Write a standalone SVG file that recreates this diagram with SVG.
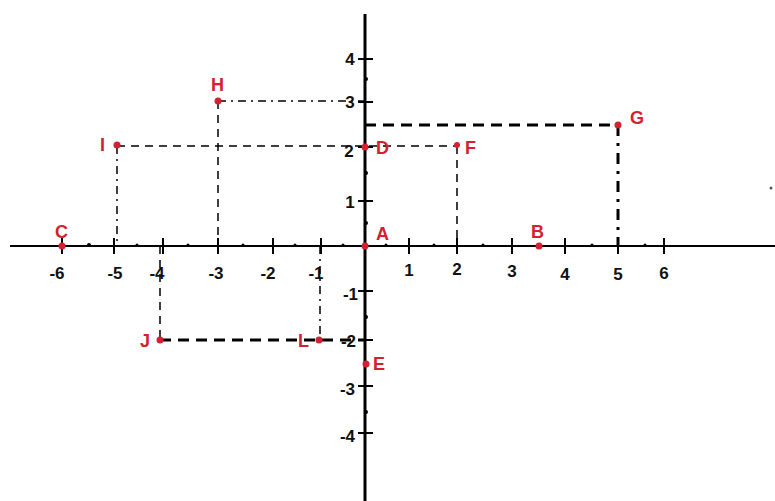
<svg xmlns="http://www.w3.org/2000/svg" width="775" height="501" viewBox="0 0 775 501">
<style>
.axis{stroke:#000;fill:none}
.tick{stroke:#000;stroke-width:2}
.minor{fill:#000}
.num{font-family:"Liberation Sans",Arial,sans-serif;font-weight:bold;font-size:17px;fill:#111}
.lbl{font-family:"Liberation Sans",Arial,sans-serif;font-weight:bold;font-size:18px;fill:#d42030}
.pt{fill:#d42030}
.thin{stroke:#000;stroke-width:1.5;stroke-dasharray:8 6;fill:none}
.thindd{stroke:#000;stroke-width:1.5;stroke-dasharray:8 5 2 5;fill:none}
.thick{stroke:#000;stroke-width:3;stroke-dasharray:11 7;fill:none}
.thickdd{stroke:#000;stroke-width:3;stroke-dasharray:11 7 3 7;fill:none}
</style>
<rect width="775" height="501" fill="#fff"/>
<g id="connectors">
<path class="thindd" d="M218 101 H365"/>
<path class="thin" d="M218 101 V246"/>
<path class="thin" d="M117 146 H457"/>
<path class="thindd" d="M117 146 V246"/>
<path class="thin" d="M457 146 V246"/>
<path class="thick" d="M365 125 H618"/>
<path class="thickdd" d="M618 125 V246"/>
<path class="thick" d="M160 340 H365"/>
<path class="thin" d="M160 246 V340"/>
<path class="thindd" d="M320 246 V340"/>
</g>
<g id="axes">
<line class="axis" x1="10" y1="246" x2="775" y2="246" stroke-width="2"/>
<line class="axis" x1="365" y1="14" x2="365" y2="501" stroke-width="3"/>
<g class="tick">
<line x1="62" y1="238" x2="62" y2="254"/>
<line x1="114" y1="238" x2="114" y2="254"/>
<line x1="163" y1="238" x2="163" y2="254"/>
<line x1="218" y1="238" x2="218" y2="254"/>
<line x1="273" y1="238" x2="273" y2="254"/>
<line x1="321" y1="238" x2="321" y2="254"/>
<line x1="409" y1="238" x2="409" y2="254"/>
<line x1="457" y1="238" x2="457" y2="254"/>
<line x1="512" y1="238" x2="512" y2="254"/>
<line x1="565" y1="238" x2="565" y2="254"/>
<line x1="618" y1="238" x2="618" y2="254"/>
<line x1="664" y1="238" x2="664" y2="254"/>
<line x1="358" y1="59" x2="373" y2="59"/>
<line x1="358" y1="102" x2="373" y2="102"/>
<line x1="358" y1="147" x2="373" y2="147"/>
<line x1="358" y1="201" x2="373" y2="201"/>
<line x1="358" y1="291" x2="373" y2="291"/>
<line x1="358" y1="340" x2="373" y2="340"/>
<line x1="358" y1="386" x2="373" y2="386"/>
<line x1="358" y1="433" x2="373" y2="433"/>
</g>
<g class="minor">
<circle cx="89" cy="245" r="2"/><circle cx="137" cy="245" r="1.5"/><circle cx="188" cy="245" r="1.5"/>
<circle cx="243" cy="245" r="1.5"/><circle cx="295" cy="245" r="1.5"/><circle cx="343" cy="245" r="1.5"/>
<circle cx="386" cy="245" r="1.5"/><circle cx="434" cy="245" r="1.5"/><circle cx="483" cy="245" r="1.5"/>
<circle cx="592" cy="245" r="1.5"/><circle cx="645" cy="245" r="1.5"/>
<circle cx="366" cy="79" r="2"/><circle cx="366" cy="173" r="2"/><circle cx="366" cy="223" r="2"/>
<circle cx="366" cy="317" r="2"/><circle cx="366" cy="412" r="2"/>
<circle cx="771" cy="188" r="1.5" fill="#555"/>
</g>
<g class="num" text-anchor="middle">
<text x="57" y="279">-6</text><text x="115" y="279">-5</text><text x="157" y="279">-4</text>
<text x="216" y="279">-3</text><text x="268" y="279">-2</text><text x="316" y="279">-1</text>
<text x="409" y="276">1</text><text x="457" y="275">2</text><text x="512" y="277">3</text>
<text x="565" y="280">4</text><text x="618" y="280">5</text><text x="664" y="279">6</text>
<text x="350" y="65">4</text><text x="350" y="108">3</text><text x="349" y="157">2</text><text x="350" y="208">1</text>
</g>
<g class="num" text-anchor="end">
<text x="358" y="300">-1</text><text x="356" y="347">-2</text><text x="355" y="395">-3</text><text x="355" y="442">-4</text>
</g>
</g>
<g id="A"><circle class="pt" cx="365" cy="246" r="3.5"/><text class="lbl" x="376" y="240">A</text></g>
<g id="B"><circle class="pt" cx="539" cy="246" r="3.5"/><text class="lbl" x="531" y="238">B</text></g>
<g id="C"><circle class="pt" cx="62" cy="246" r="3.5"/><text class="lbl" x="55" y="238">C</text></g>
<g id="D"><circle class="pt" cx="365" cy="147" r="3.5"/><text class="lbl" x="376" y="154">D</text></g>
<g id="E"><circle class="pt" cx="366" cy="364" r="3.5"/><text class="lbl" x="373" y="370" font-weight="normal" font-size="17">E</text></g>
<g id="F"><circle class="pt" cx="457" cy="145" r="3"/><text class="lbl" x="465" y="154">F</text></g>
<g id="G"><circle class="pt" cx="618" cy="125" r="3.5"/><text class="lbl" x="630" y="124">G</text></g>
<g id="H"><circle class="pt" cx="218" cy="101" r="3.5"/><text class="lbl" x="211" y="91">H</text></g>
<g id="I"><circle class="pt" cx="117" cy="145" r="3.5"/><text class="lbl" x="100" y="151">I</text></g>
<g id="J"><circle class="pt" cx="160" cy="340" r="3.5"/><text class="lbl" x="140" y="347">J</text></g>
<g id="L"><circle class="pt" cx="319" cy="340" r="3.5"/><text class="lbl" x="298" y="347">L</text></g>
</svg>
